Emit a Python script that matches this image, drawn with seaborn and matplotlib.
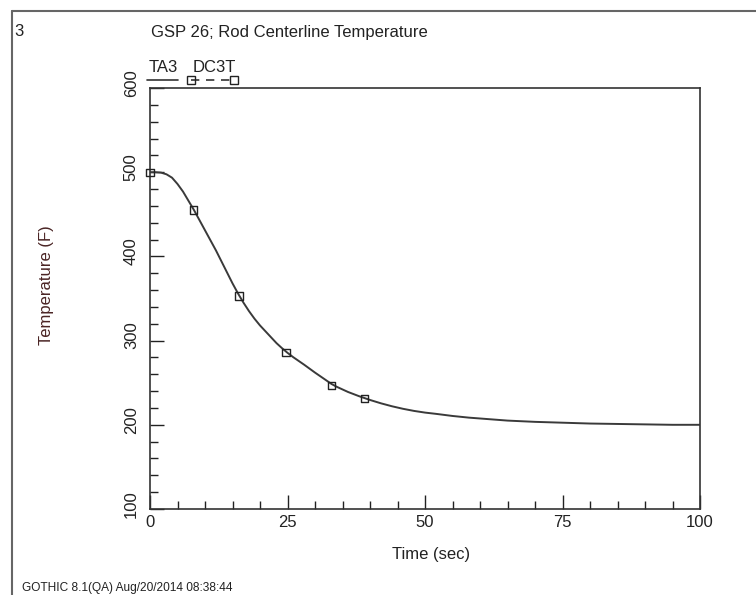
"""
GOTHIC rod centerline temperature, GSP 26
TA3 calculated curve vs DC3T data points
"""

import matplotlib as mpl
mpl.use('Agg')
import matplotlib.pyplot as plt
import matplotlib.transforms as mtransforms
from matplotlib.ticker import MultipleLocator
import seaborn as sns
import pandas as pd
import numpy as np

sns.set_theme(style='white')
plt.rcParams['font.family'] = ['Liberation Sans', 'DejaVu Sans']

# ============================================ #
# DATA
# ============================================ #
ta3_time = [0, 1, 2, 3, 4, 5, 6, 7, 8, 9, 10, 11, 12, 13, 14, 15, 16, 17,
            18, 19, 20, 21, 22, 23, 24, 25, 26, 27, 28, 30, 32, 33, 34, 36,
            38, 40, 42, 44, 46, 48, 50, 52, 55, 58, 60, 65, 70, 75, 80, 85,
            90, 95, 100]
ta3_temp = [500, 500, 499.5, 497.5, 493.5, 486, 477, 466, 455, 443, 431,
            419, 407, 394, 381, 368, 356, 345, 335, 326, 318, 311, 304,
            297, 291, 285.5, 280.5, 276, 271.5, 262, 253, 248.5, 245, 239,
            234, 229.5, 225.5, 222, 219, 216.5, 214.5, 213, 210.5, 208.5,
            207.5, 205, 203.5, 202.5, 201.5, 201, 200.5, 200, 200]

dc3t_time = [0, 7.9, 16.2, 24.7, 33.0, 39.0]
dc3t_temp = [500, 455, 353, 286, 247, 231]

ta3 = pd.DataFrame({'time': ta3_time, 'temp': ta3_temp})
dc3t = pd.DataFrame({'time': dc3t_time, 'temp': dc3t_temp})

W, H = 756, 595
fig = plt.figure(figsize=(W / 100, H / 100), dpi=100)
fig.patch.set_facecolor('white')
ax = fig.add_axes([150 / W, 1 - 509 / H, 550 / W, 421 / H])

sns.lineplot(data=ta3, x='time', y='temp', ax=ax, color='#3a3a3a',
             linewidth=1.4, sort=False)
sns.scatterplot(data=dc3t, x='time', y='temp', ax=ax, marker='s', s=28,
                facecolor='none', edgecolor='#222222', linewidth=1.0,
                zorder=5, clip_on=False)

ax.set(xlim=[0, 100], ylim=[100, 600])
ax.xaxis.set_major_locator(MultipleLocator(25))
ax.xaxis.set_minor_locator(MultipleLocator(5))
ax.yaxis.set_major_locator(MultipleLocator(100))
ax.yaxis.set_minor_locator(MultipleLocator(20))
ax.tick_params(which='both', direction='in', color='#222222', width=1.0,
               top=False, right=False, bottom=True, left=True,
               labelsize=12, labelcolor='#222222')
ax.tick_params(which='major', length=10)
ax.tick_params(which='minor', length=6)
ax.tick_params(axis='x', pad=4)
ax.tick_params(axis='y', pad=8)
# GOTHIC puts the rotated y labels slightly above their ticks
lift = mtransforms.ScaledTranslation(0, 5 / 100, fig.dpi_scale_trans)
for lab in ax.get_yticklabels():
    lab.set_rotation(90)
    lab.set_va('center')
    lab.set_transform(lab.get_transform() + lift)
for sp in ax.spines.values():
    sp.set_color('#333333')
    sp.set_linewidth(1.2)
ax.set_xlabel('')
ax.set_ylabel('')

# axis titles
fig.text(431 / W, 1 - 555 / H, 'Time (sec)', ha='center', va='center',
         fontsize=12, color='#222222')
fig.text(46 / W, 1 - 285 / H, 'Temperature (F)', ha='center', va='center',
         rotation=90, fontsize=12, color='#4a2424')

# header / footer
fig.text(14 / W, 1 - 32 / H, '3', ha='left', va='center', fontsize=12,
         color='#222222')
fig.text(289 / W, 1 - 33 / H, 'GSP 26; Rod Centerline Temperature',
         ha='center', va='center', fontsize=12, color='#222222')
fig.text(22 / W, 1 - 588 / H, 'GOTHIC 8.1(QA) Aug/20/2014 08:38:44',
         ha='left', va='center', fontsize=8.6, color='#222222')

# legend above the axes, GOTHIC style (label over line sample)
fig.text(163 / W, 1 - 67 / H, 'TA3', ha='center', va='center', fontsize=12,
         color='#222222')
fig.text(214 / W, 1 - 67 / H, 'DC3T', ha='center', va='center', fontsize=12,
         color='#222222')
fig.add_artist(plt.Line2D([147 / W, 178 / W], [1 - 80 / H, 1 - 80 / H],
                          color='#333333', lw=1.2))
fig.add_artist(plt.Line2D([191 / W, 234 / W], [1 - 80 / H, 1 - 80 / H],
                          color='#333333', lw=1.2, ls=(0, (5, 4)),
                          marker='s', markersize=5.3, markerfacecolor='none',
                          markeredgecolor='#222222', markevery=[0, 1]))

# outer frame (top and left only)
fig.add_artist(plt.Line2D([12 / W, 1], [1 - 11 / H, 1 - 11 / H],
                          color='#666666', lw=1.5))
fig.add_artist(plt.Line2D([12 / W, 12 / W], [1 - 11 / H, 0],
                          color='#666666', lw=1.5))

fig.savefig('out.png', dpi=100, facecolor='white')
